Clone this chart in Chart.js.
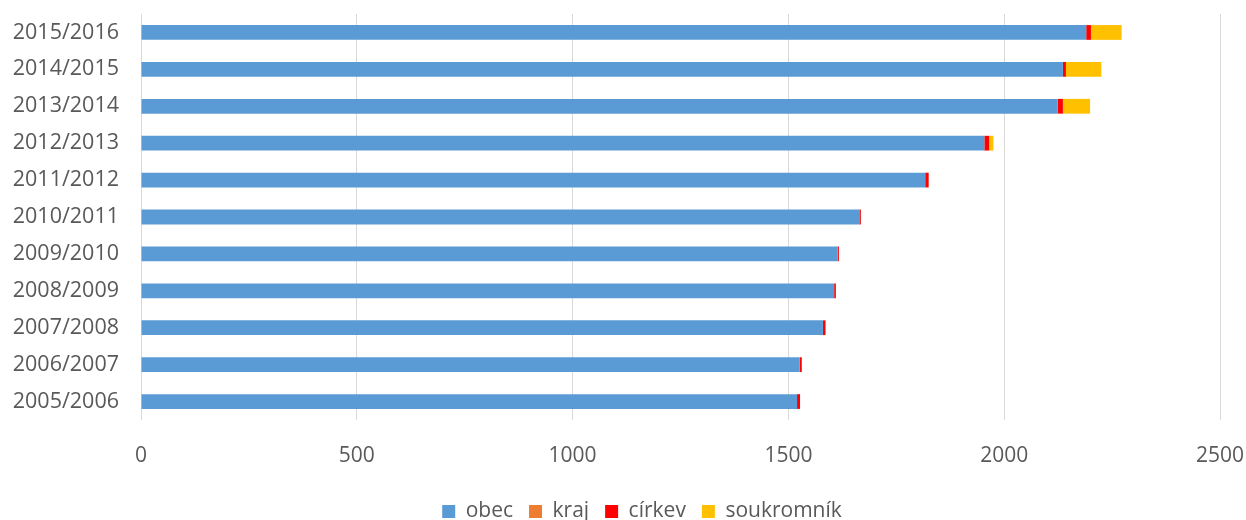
<!DOCTYPE html>
<html>
<head>
<meta charset="utf-8">
<script src="https://cdn.jsdelivr.net/npm/chart.js@4"></script>
<style>
html,body{margin:0;padding:0;background:#fff;}
#wrap{width:1246px;height:520px;position:relative;}
</style>
</head>
<body>
<div id="wrap"><canvas id="c" width="1246" height="520"></canvas></div>
<script>
const categories = ["2015/2016","2014/2015","2013/2014","2012/2013","2011/2012","2010/2011","2009/2010","2008/2009","2007/2008","2006/2007","2005/2006"];
const obec       = [2190, 2136, 2124, 1954, 1817, 1666, 1614, 1606, 1580, 1526, 1520];
const kraj       = [0, 0, 0, 0, 0, 0, 0, 0, 0, 0, 0];
const cirkev     = [11, 7, 12, 11, 8, 2, 3, 4, 6, 5, 7];
const soukromnik = [71, 82, 63, 10, 0, 0, 0, 0, 0, 0, 0];
const xTicks = [0, 500, 1000, 1500, 2000, 2500];

const FONT = "'Open Sans', sans-serif";
const TXT = '#595959';

const legendShift = {
  id: 'legendShift',
  afterLayout(chart) {
    const lg = chart.legend;
    if (lg) { lg.left += 32; lg.right += 32; }
  }
};

new Chart(document.getElementById('c'), {
  type: 'bar',
  data: {
    labels: categories,
    datasets: [
      {label: 'obec', data: obec, backgroundColor: '#5B9BD5'},
      {label: 'kraj', data: kraj, backgroundColor: '#ED7D31'},
      {label: 'církev', data: cirkev, backgroundColor: '#FF0000'},
      {label: 'soukromník', data: soukromnik, backgroundColor: '#FFC000'}
    ]
  },
  plugins: [legendShift],
  options: {
    indexAxis: 'y',
    responsive: false,
    animation: false,
    layout: {padding: {left: 0, right: 26, top: 14, bottom: -12}},
    datasets: {bar: {barPercentage: 0.4, categoryPercentage: 1.0}},
    scales: {
      x: {
        stacked: true,
        min: 0, max: 2500,
        afterBuildTicks: (s) => { s.ticks = xTicks.map(v => ({value: v})); },
        grid: {color: '#D9D9D9', lineWidth: 1, drawTicks: false},
        border: {display: false},
        ticks: {color: TXT, font: {family: FONT, size: 21}, padding: 23, maxRotation: 0,
                callback: (v) => String(v)},
        afterFit: (s) => { s.height = 65; s.paddingLeft = 0; s.paddingRight = 0; }
      },
      y: {
        stacked: true,
        grid: {display: false, drawTicks: false},
        border: {display: false},
        ticks: {color: TXT, font: {family: FONT, size: 21.5}, padding: 22},
        afterFit: (s) => { s.width = 141; s.paddingTop = 0; s.paddingBottom = 0; }
      }
    },
    plugins: {
      legend: {
        position: 'bottom',
        labels: {
          color: TXT,
          font: {family: FONT, size: 21},
          boxWidth: 13, boxHeight: 13,
          padding: 16
        }
      },
      tooltip: {enabled: false}
    }
  }
});
</script>
</body>
</html>
